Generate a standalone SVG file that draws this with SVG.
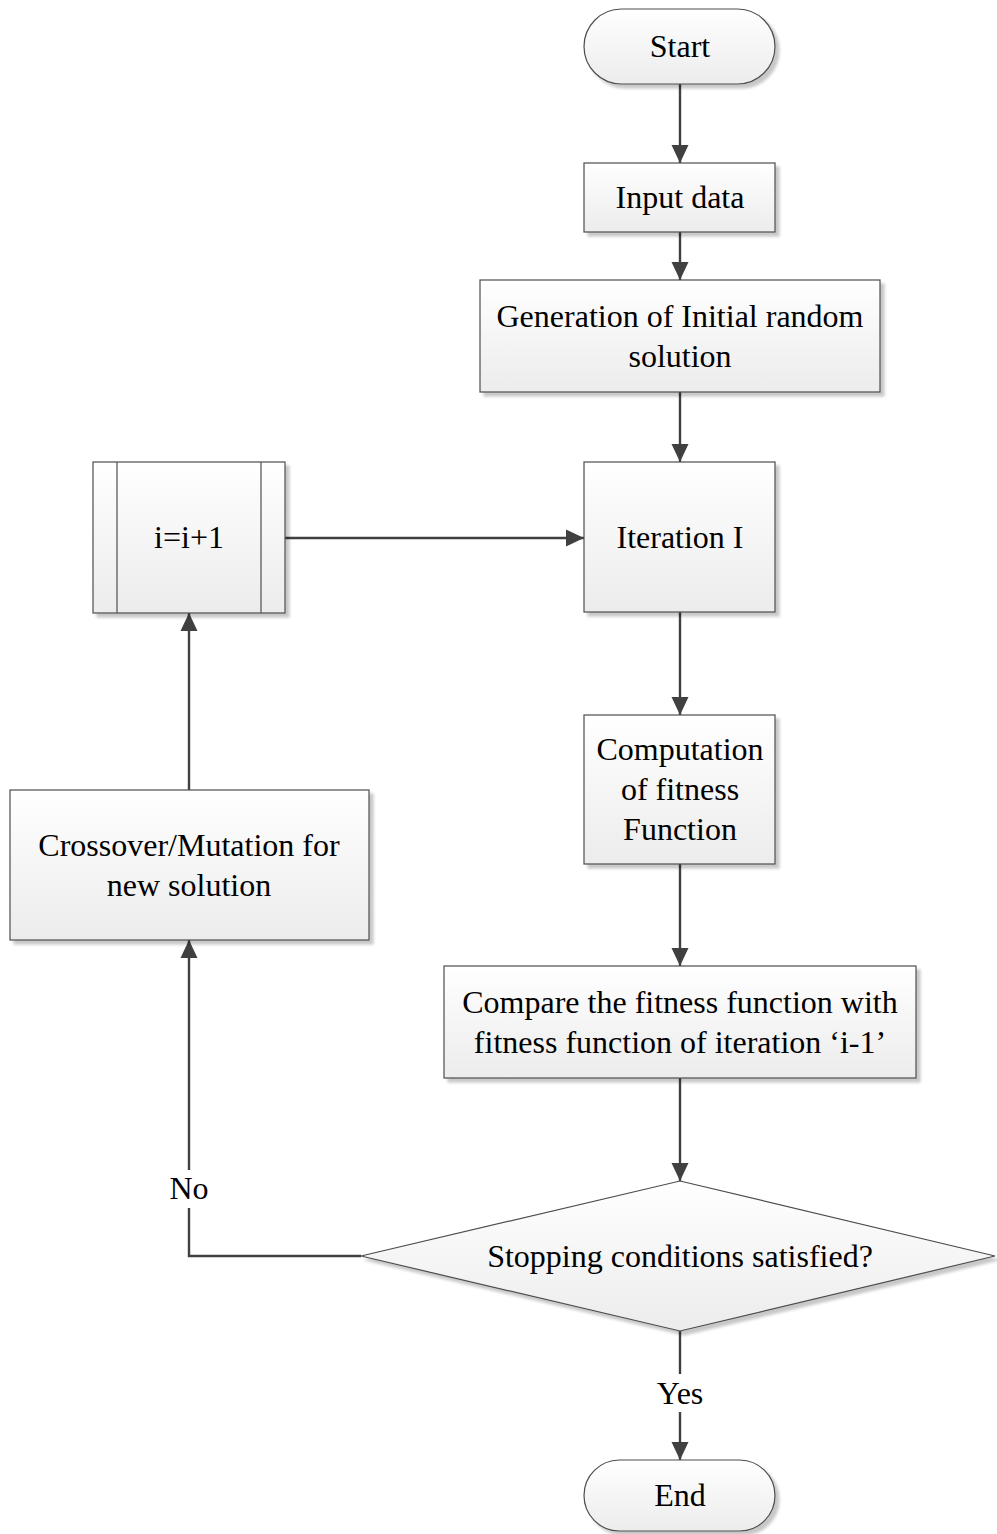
<svg xmlns="http://www.w3.org/2000/svg" width="997" height="1534" viewBox="0 0 997 1534">
  <style>
    .shape { fill: url(#nodeFill); stroke: #4d4d4d; stroke-width: 1.2; filter: url(#shadow); }
    .divider { stroke: #4d4d4d; stroke-width: 1.2; fill: none; }
    .label { font-family: "Liberation Serif", "Times New Roman", serif; font-size: 32px; fill: #000; text-anchor: middle; }
    .edge { stroke: #404040; stroke-width: 2.4; fill: none; }
    .edge-arrow { marker-end: url(#arrow); }
  </style>
  <defs>
    <linearGradient id="nodeFill" x1="0" y1="0" x2="0" y2="1">
      <stop offset="0" stop-color="#ffffff"/>
      <stop offset="1" stop-color="#ececec"/>
    </linearGradient>
    <filter id="shadow" x="-10%" y="-10%" width="130%" height="130%">
      <feGaussianBlur in="SourceAlpha" stdDeviation="1.5"/>
      <feOffset dx="4" dy="4" result="blur"/>
      <feComponentTransfer><feFuncA type="linear" slope="0.22"/></feComponentTransfer>
      <feMerge><feMergeNode/><feMergeNode in="SourceGraphic"/></feMerge>
    </filter>
    <marker id="arrow" viewBox="0 0 18 18" refX="18" refY="9" markerWidth="18" markerHeight="18" markerUnits="userSpaceOnUse" orient="auto">
      <path d="M0,0.5 L18,9 L0,17.5 Z" fill="#404040"/>
    </marker>
  </defs>
  <rect width="997" height="1534" fill="#ffffff"/>

  <!-- connectors -->
  <g id="connectors">
    <line class="edge edge-arrow" x1="680" y1="84" x2="680" y2="163"/>
    <line class="edge edge-arrow" x1="680" y1="232" x2="680" y2="280"/>
    <line class="edge edge-arrow" x1="680" y1="392" x2="680" y2="462"/>
    <line class="edge edge-arrow" x1="680" y1="612" x2="680" y2="715"/>
    <line class="edge edge-arrow" x1="680" y1="864" x2="680" y2="966"/>
    <line class="edge edge-arrow" x1="680" y1="1078" x2="680" y2="1181"/>
    <line class="edge edge-arrow" x1="680" y1="1331" x2="680" y2="1460"/>
    <polyline class="edge edge-arrow" points="361,1256 189,1256 189,940"/>
    <line class="edge edge-arrow" x1="189" y1="790" x2="189" y2="613"/>
    <line class="edge edge-arrow" x1="285" y1="538" x2="584" y2="538"/>
    <rect x="650" y="1374" width="60" height="38" fill="#ffffff"/>
    <text class="label" x="680" y="1404">Yes</text>
    <rect x="163" y="1170" width="52" height="38" fill="#ffffff"/>
    <text class="label" x="189" y="1199">No</text>
  </g>

  <g id="start">
    <rect class="shape" x="584" y="9" width="191" height="75" rx="37.5" ry="37.5"/>
    <text class="label" x="680" y="57">Start</text>
  </g>

  <g id="input-data">
    <rect class="shape" x="584" y="163" width="191" height="69"/>
    <text class="label" x="680" y="208">Input data</text>
  </g>

  <g id="initial-solution">
    <rect class="shape" x="480" y="280" width="400" height="112"/>
    <text class="label" x="680" y="327">Generation of Initial random</text>
    <text class="label" x="680" y="367">solution</text>
  </g>

  <g id="iteration">
    <rect class="shape" x="584" y="462" width="191" height="150"/>
    <text class="label" x="680" y="548">Iteration I</text>
  </g>

  <g id="increment">
    <rect class="shape" x="93" y="462" width="192" height="151"/>
    <line class="divider" x1="117" y1="462" x2="117" y2="613"/>
    <line class="divider" x1="261" y1="462" x2="261" y2="613"/>
    <text class="label" x="189" y="548">i=i+1</text>
  </g>

  <g id="fitness">
    <rect class="shape" x="584" y="715" width="191" height="149"/>
    <text class="label" x="680" y="760">Computation</text>
    <text class="label" x="680" y="800">of fitness</text>
    <text class="label" x="680" y="840">Function</text>
  </g>

  <g id="crossover">
    <rect class="shape" x="10" y="790" width="359" height="150"/>
    <text class="label" x="189" y="856">Crossover/Mutation for</text>
    <text class="label" x="189" y="896">new solution</text>
  </g>

  <g id="compare">
    <rect class="shape" x="444" y="966" width="472" height="112"/>
    <text class="label" x="680" y="1013">Compare the fitness function with</text>
    <text class="label" x="680" y="1053">fitness function of iteration ‘i-1’</text>
  </g>

  <g id="stopping">
    <polygon class="shape" points="680,1181 995,1256 680,1331 361,1256"/>
    <text class="label" x="680" y="1267">Stopping conditions satisfied?</text>
  </g>

  <g id="end">
    <rect class="shape" x="584" y="1460" width="191" height="71" rx="35.5" ry="35.5"/>
    <text class="label" x="680" y="1506">End</text>
  </g>
</svg>
